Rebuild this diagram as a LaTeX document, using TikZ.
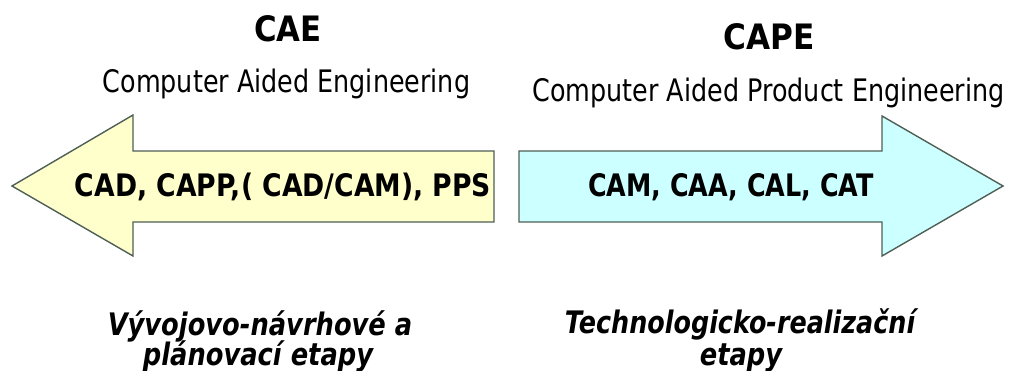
\documentclass[tikz,border=0pt]{standalone}
\usepackage{fontspec}
\usepackage{graphicx}
\setmainfont{DejaVu Sans}
\newcommand{\sq}[2]{\scalebox{#1}[1]{#2}}
\definecolor{yellowfill}{HTML}{FFFFCC}
\definecolor{cyanfill}{HTML}{CCFFFF}
\definecolor{arrowedge}{HTML}{4F5F55}
\tikzset{
  bigarrow/.style={draw=arrowedge, line width=1.4pt, line join=miter},
  title/.style={anchor=base, inner sep=0pt, font=\fontsize{35}{38}\selectfont\bfseries},
  subtitle/.style={anchor=base, inner sep=0pt, font=\fontsize{31}{34}\selectfont},
  arrowtext/.style={anchor=base, inner sep=0pt, font=\fontsize{31}{34}\selectfont\bfseries},
  phase/.style={anchor=base, inner sep=0pt, font=\fontsize{31}{34}\selectfont\bfseries\itshape},
}
\begin{document}
\begin{tikzpicture}[x=1pt,y=-1pt]
\useasboundingbox (0,0) rectangle (1011,371);
% left arrow
\draw[bigarrow, fill=yellowfill] (12,186) -- (133,115) -- (133,151) -- (494,151) -- (494,222) -- (133,222) -- (133,256) -- cycle;
% right arrow
\draw[bigarrow, fill=cyanfill] (1003,186) -- (882,116) -- (882,151) -- (519,151) -- (519,222) -- (882,222) -- (882,256) -- cycle;
% titles
\node[title] (cae) at (288,42) {\sq{0.88}{CAE}};
\node[title] (cape) at (769,50) {\sq{0.89}{CAPE}};
\node[subtitle] (caesub) at (286.5,93) {\sq{0.82}{Computer Aided Engineering}};
\node[subtitle] (capesub) at (768.5,102) {\sq{0.82}{Computer Aided Product Engineering}};
% arrow texts
\node[arrowtext] (lefttext) at (283,197) {\sq{0.86}{CAD, CAPP,( CAD/CAM), PPS}};
\node[arrowtext] (righttext) at (731,197) {\sq{0.82}{CAM, CAA, CAL, CAT}};
% phases
\node[phase] (leftA) at (260,335) {\sq{0.83}{Vývojovo-návrhové a}};
\node[phase] (leftB) at (258,365) {\sq{0.83}{plánovací etapy}};
\node[phase] (rightA) at (740,333) {\sq{0.82}{Technologicko-realizační}};
\node[phase] (rightB) at (741,365) {\sq{0.83}{etapy}};
\end{tikzpicture}
\end{document}
